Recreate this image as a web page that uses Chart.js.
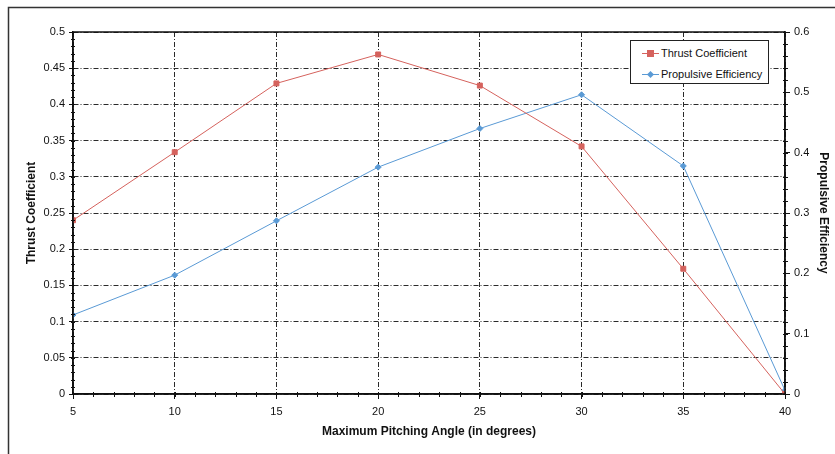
<!DOCTYPE html>
<html>
<head>
<meta charset="utf-8">
<script src="https://cdn.jsdelivr.net/npm/chart.js@4.4.1/dist/chart.umd.min.js"></script>
<style>
  html, body { margin: 0; padding: 0; background: #fff; }
  #wrap { position: relative; width: 835px; height: 454px; overflow: hidden; }
  canvas { position: absolute; left: 0; top: 0; }
  #legend { position: absolute; left: 630px; top: 40px; width: 137px; height: 42px;
    border: 1px solid #222; background: #fff; font: 11px "Liberation Sans", Arial, sans-serif; color: #111; }
  .row { position: absolute; left: 11px; height: 14px; line-height: 14px; white-space: nowrap; }
  .ln { position: absolute; left: 0; top: 7px; width: 17px; height: 1px; }
  .mk { position: absolute; }
  .tx { position: absolute; left: 19px; top: 0; }
</style>
</head>
<body>
<div id="wrap">
  <canvas id="c" width="835" height="454"></canvas>
  <div id="legend">
    <div class="row" style="top:5px"><div class="ln" style="background:#d5625d"></div><div class="mk" style="left:5px;top:4px;width:7px;height:7px;background:#d5625d"></div><div class="tx">Thrust Coefficient</div></div>
    <div class="row" style="top:26px"><div class="ln" style="background:#5a9ad5"></div><div class="mk" style="left:6px;top:5px;width:5px;height:5px;background:#5a9ad5;transform:rotate(45deg)"></div><div class="tx">Propulsive Efficiency</div></div>
  </div>
</div>
<script>
const angles = [5, 10, 15, 20, 25, 30, 35, 40];
const thrustCoefficient = [0.240, 0.334, 0.429, 0.469, 0.426, 0.342, 0.173, 0.0];
const propulsiveEfficiency = [0.131, 0.197, 0.287, 0.376, 0.440, 0.496, 0.378, 0.006];

const seriesNames = ['Thrust Coefficient', 'Propulsive Efficiency'];
const FONT = '"Liberation Sans", Arial, sans-serif';
const GRID = '#2a2a2a';
const DASH = [5, 2, 1, 2];
const fmt = v => String(parseFloat(Number(v).toFixed(3)));

const extras = {
  id: 'extras',
  beforeDraw(chart) {
    const ctx = chart.ctx;
    ctx.save();
    ctx.strokeStyle = '#333';
    ctx.lineWidth = 1.5;
    ctx.beginPath();
    ctx.moveTo(8.5, 460);
    ctx.lineTo(8.5, 7.5);
    ctx.lineTo(840, 7.5);
    ctx.stroke();
    ctx.restore();
  },
  afterDraw(chart) {
    const ctx = chart.ctx;
    const a = chart.chartArea;
    const { x, y, y2 } = chart.scales;
    ctx.save();
    ctx.strokeStyle = '#111';
    ctx.lineWidth = 1;
    ctx.setLineDash([]);
    ctx.beginPath();
    for (let v = 0; v <= 0.5001; v += 0.01) {
      const py = Math.round(y.getPixelForValue(v)) + 0.5;
      ctx.moveTo(a.left - 2, py); ctx.lineTo(a.left + 2, py);
    }
    for (let v = 0; v <= 0.6001; v += 0.02) {
      const py = Math.round(y2.getPixelForValue(v)) + 0.5;
      ctx.moveTo(a.right - 2, py); ctx.lineTo(a.right + 3, py);
    }
    for (let v = 5; v <= 40; v += 1) {
      const px = Math.round(x.getPixelForValue(v)) + 0.5;
      ctx.moveTo(px, a.bottom - 2); ctx.lineTo(px, a.bottom + 3);
    }
    ctx.stroke();
    ctx.lineWidth = 1.5;
    ctx.strokeRect(a.left, a.top, a.right - a.left, a.bottom - a.top);
    ctx.restore();
  }
};

new Chart(document.getElementById('c'), {
  type: 'line',
  data: {
    datasets: [
      {
        label: seriesNames[0],
        data: angles.map((a, i) => ({ x: a, y: thrustCoefficient[i] })),
        yAxisID: 'y',
        borderColor: '#d5625d', backgroundColor: '#d5625d',
        borderWidth: 1, pointStyle: 'rect', pointRadius: 3.5, pointHoverRadius: 3.5,
        tension: 0
      },
      {
        label: seriesNames[1],
        data: angles.map((a, i) => ({ x: a, y: propulsiveEfficiency[i] })),
        yAxisID: 'y2',
        borderColor: '#5a9ad5', backgroundColor: '#5a9ad5',
        borderWidth: 1, pointStyle: 'rectRot', pointRadius: 3, pointHoverRadius: 3,
        tension: 0
      }
    ]
  },
  options: {
    responsive: false,
    animation: false,
    layout: { padding: { top: 32, left: 24, right: 4, bottom: 15 } },
    plugins: { legend: { display: false }, tooltip: { enabled: false } },
    scales: {
      x: {
        type: 'linear', min: 5, max: 40,
        afterFit(s) { s.height = 45; },
        ticks: { stepSize: 5, color: '#111', font: { family: FONT, size: 11 }, padding: 6, maxRotation: 0, callback: fmt },
        grid: { color: GRID, lineWidth: 1, tickLength: 5, tickColor: '#111' },
        border: { display: true, color: '#111', width: 1.5, dash: DASH },
        title: { display: true, text: 'Maximum Pitching Angle (in degrees)', color: '#111',
          font: { family: FONT, size: 12, weight: 'bold' }, padding: { top: 2, bottom: 0 } }
      },
      y: {
        position: 'left', min: 0, max: 0.5,
        afterFit(s) { s.width = 49; },
        ticks: { stepSize: 0.05, color: '#111', font: { family: FONT, size: 11 }, padding: 4, callback: fmt },
        grid: { color: GRID, lineWidth: 1, tickLength: 4, tickColor: '#111' },
        border: { display: true, color: '#111', width: 1.5, dash: DASH },
        title: { display: true, text: 'Thrust Coefficient', color: '#111',
          font: { family: FONT, size: 12, weight: 'bold' }, padding: { top: 0, bottom: 0 } }
      },
      y2: {
        position: 'right', min: 0, max: 0.6,
        afterFit(s) { s.width = 46; },
        ticks: { stepSize: 0.1, color: '#111', font: { family: FONT, size: 11 }, padding: 4, callback: fmt },
        grid: { drawOnChartArea: false, tickLength: 5, tickColor: '#111' },
        border: { display: true, color: '#111', width: 1.5 },
        title: { display: true, text: 'Propulsive Efficiency', color: '#111',
          font: { family: FONT, size: 12, weight: 'bold' }, padding: { top: 0, bottom: 4 } }
      }
    }
  },
  plugins: [extras]
});
</script>
</body>
</html>
